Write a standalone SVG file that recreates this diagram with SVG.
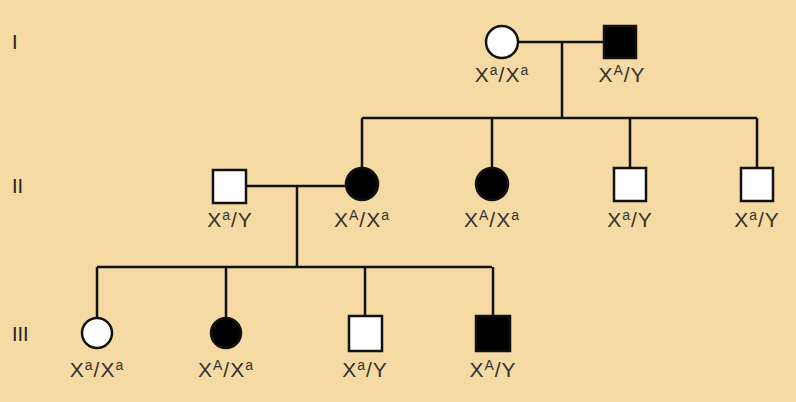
<svg xmlns="http://www.w3.org/2000/svg" width="796" height="402" viewBox="0 0 796 402">
<style>
.b{fill:#f5dba3}
.s{stroke:#111;stroke-width:2.5}
.w{fill:#fff}
.k{fill:#000}
.t{font-family:"Liberation Sans",Arial,sans-serif;font-size:21px;fill:#333;text-anchor:middle;letter-spacing:1px}
.g{font-family:"Liberation Sans",Arial,sans-serif;font-size:20px;fill:#222}
.sup{font-size:14px}
</style>
<rect class="b" width="796" height="402"/>
<text class="g" x="12" y="49">I</text>
<text class="g" x="12" y="193">II</text>
<text class="g" x="12" y="341">III</text>
<g id="connectors" fill="none" class="s">
<path d="M518 42H604M562 42V118M362 118H757M362 118V168M492 118V168M630 118V168M757 118V168"/>
<path d="M246 186H346M297 186V267M97 267H492M97 267V318M226 267V318M365 267V316M493 267V316"/>
</g>
<g id="I1"><circle class="w s" cx="502" cy="42" r="16"/><text class="t" x="502" y="82">X<tspan class="sup" dy="-7">a</tspan><tspan dy="7">/X</tspan><tspan class="sup" dy="-7">a</tspan></text></g>
<g id="I2"><rect class="k s" x="604" y="26" width="32" height="32"/><text class="t" x="622" y="82">X<tspan class="sup" dy="-7">A</tspan><tspan dy="7">/Y</tspan></text></g>
<g id="II1"><rect class="w s" x="213" y="170" width="33" height="33"/><text class="t" x="230" y="227">X<tspan class="sup" dy="-7">a</tspan><tspan dy="7">/Y</tspan></text></g>
<g id="II2"><circle class="k s" cx="362" cy="184" r="16"/><text class="t" x="362" y="227">X<tspan class="sup" dy="-7">A</tspan><tspan dy="7">/X</tspan><tspan class="sup" dy="-7">a</tspan></text></g>
<g id="II3"><circle class="k s" cx="492" cy="184" r="16"/><text class="t" x="492" y="227">X<tspan class="sup" dy="-7">A</tspan><tspan dy="7">/X</tspan><tspan class="sup" dy="-7">a</tspan></text></g>
<g id="II4"><rect class="w s" x="614" y="168" width="32" height="33"/><text class="t" x="630" y="227">X<tspan class="sup" dy="-7">a</tspan><tspan dy="7">/Y</tspan></text></g>
<g id="II5"><rect class="w s" x="741" y="168" width="32" height="33"/><text class="t" x="757" y="227">X<tspan class="sup" dy="-7">a</tspan><tspan dy="7">/Y</tspan></text></g>
<g id="III1"><circle class="w s" cx="97" cy="333" r="15"/><text class="t" x="97" y="377">X<tspan class="sup" dy="-7">a</tspan><tspan dy="7">/X</tspan><tspan class="sup" dy="-7">a</tspan></text></g>
<g id="III2"><circle class="k s" cx="226" cy="333" r="15"/><text class="t" x="226" y="377">X<tspan class="sup" dy="-7">A</tspan><tspan dy="7">/X</tspan><tspan class="sup" dy="-7">a</tspan></text></g>
<g id="III3"><rect class="w s" x="349" y="316" width="33" height="35"/><text class="t" x="365" y="377">X<tspan class="sup" dy="-7">a</tspan><tspan dy="7">/Y</tspan></text></g>
<g id="III4"><rect class="k s" x="476" y="316" width="34" height="35"/><text class="t" x="493" y="377">X<tspan class="sup" dy="-7">A</tspan><tspan dy="7">/Y</tspan></text></g>
</svg>
